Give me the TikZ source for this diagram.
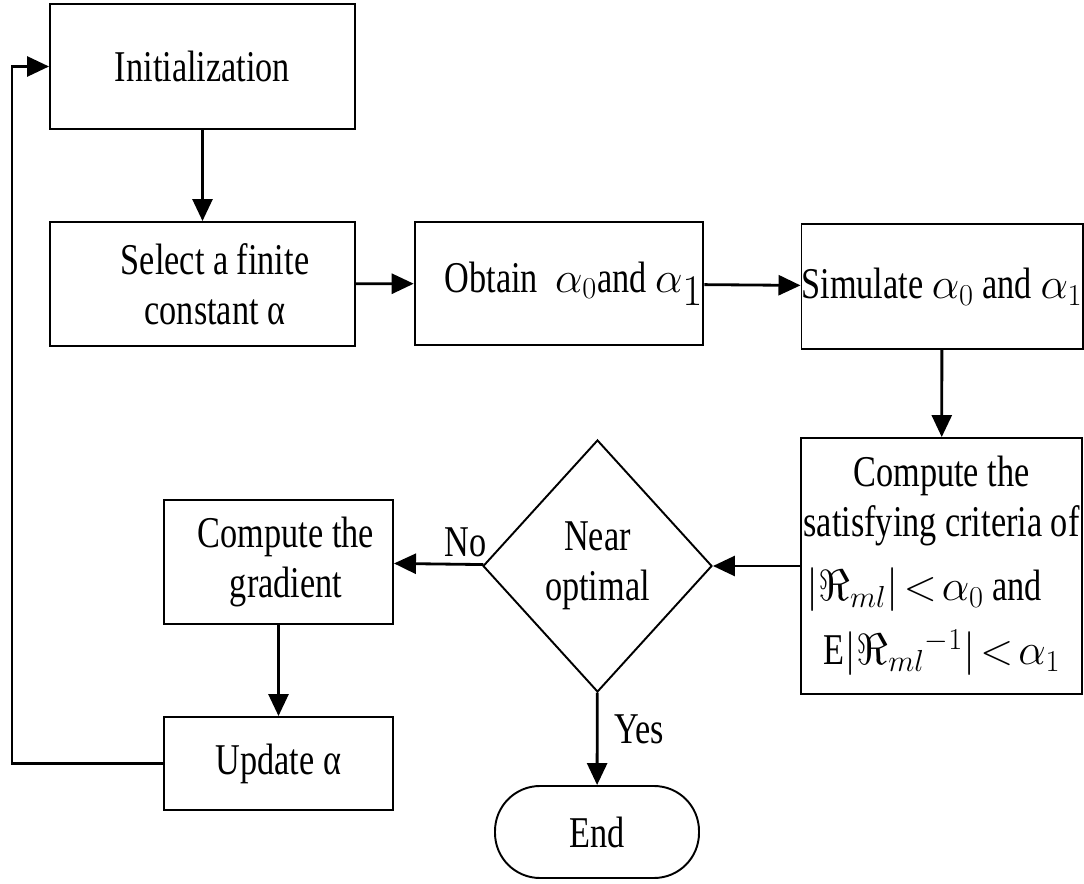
\documentclass[tikz,border=0pt]{standalone}
\usepackage{fontspec}
\setmainfont{Liberation Serif}[FakeStretch=0.78]
\usetikzlibrary{shapes.geometric,arrows.meta}

\begin{document}
\begin{tikzpicture}[
    stepbox/.style={rectangle, draw, line width=1.1pt, align=center, inner sep=0pt,
                    font=\fontsize{25}{28.5}\selectfont},
    decision/.style={diamond, draw, line width=1.1pt, align=center, inner sep=0pt,
                     font=\fontsize{25}{28.5}\selectfont},
    terminal/.style={rectangle, draw, line width=1.1pt, rounded corners=0.9cm,
                     font=\fontsize{25}{28.5}\selectfont},
    tag/.style={font=\fontsize{25}{28.5}\selectfont},
    arrow/.style={-{Triangle[length=0.44cm,width=0.4cm]}, line width=1.6pt}
]
\useasboundingbox (0,0) rectangle (21.68,-17.68);

\node[stepbox, minimum width=6.1cm, minimum height=2.5cm]   (init) at (4.05,-1.33) {Initialization};
\node[stepbox, minimum width=6.1cm, minimum height=2.48cm]  (sel)  at (4.05,-5.68) {\hspace{0.5cm}Select a finite\\\hspace{0.5cm}constant α};
\node[stepbox, minimum width=5.6cm, minimum height=2.46cm]  (obt)  at (11.18,-5.67) {\hspace{0.6cm}Obtain\ \ $\alpha_0$and {\fontsize{38}{38}\selectfont$\alpha_{\fontsize{25}{25}\selectfont 1}$}};
\node[stepbox, minimum width=5.6cm, minimum height=2.5cm]   (sim)  at (18.84,-5.73) {Simulate $\alpha_0$ and $\alpha_1$};
\node[stepbox, minimum width=5.62cm, minimum height=5.12cm] (crit) at (18.83,-11.32)
    {Compute the\\satisfying criteria of\\[8pt]
     \makebox[5.4cm][l]{$|\Re_{ml}|\!<\!\alpha_0$ and}\\[8pt]
     \makebox[5.4cm][l]{\ \ E$|\Re_{ml}{}^{-1}|\!<\!\alpha_1$}};
\node[decision, minimum width=4.58cm, minimum height=5.04cm] (near) at (11.95,-11.32) {Near\\optimal};
\node[stepbox, minimum width=4.58cm, minimum height=2.48cm]  (grad) at (5.57,-11.24) {\hspace{0.3cm}Compute the\\\hspace{0.3cm}gradient};
\node[stepbox, minimum width=4.58cm, minimum height=1.86cm]  (upd)  at (5.57,-15.27) {Update α};
\node[terminal, minimum width=4.08cm, minimum height=1.84cm] (fin)  at (11.94,-16.64) {End};

\coordinate (loop) at (0.24,-15.27);

\draw[arrow] (init) -- (sel);
\draw[arrow] (sel) -- (obt);
\draw[arrow] (obt) -- (sim);
\draw[arrow] (sim) -- (crit);
\draw[arrow] (crit) -- (near);
\draw[arrow] (near) -- node[tag, above, pos=0.2] {No} (grad);
\draw[arrow] (near) -- node[tag, right, pos=0.4, xshift=0.2cm] {Yes} (fin);
\draw[arrow] (grad) -- (upd);
\draw[arrow] (upd.west) -- (loop) |- (init.west);
\end{tikzpicture}
\end{document}
